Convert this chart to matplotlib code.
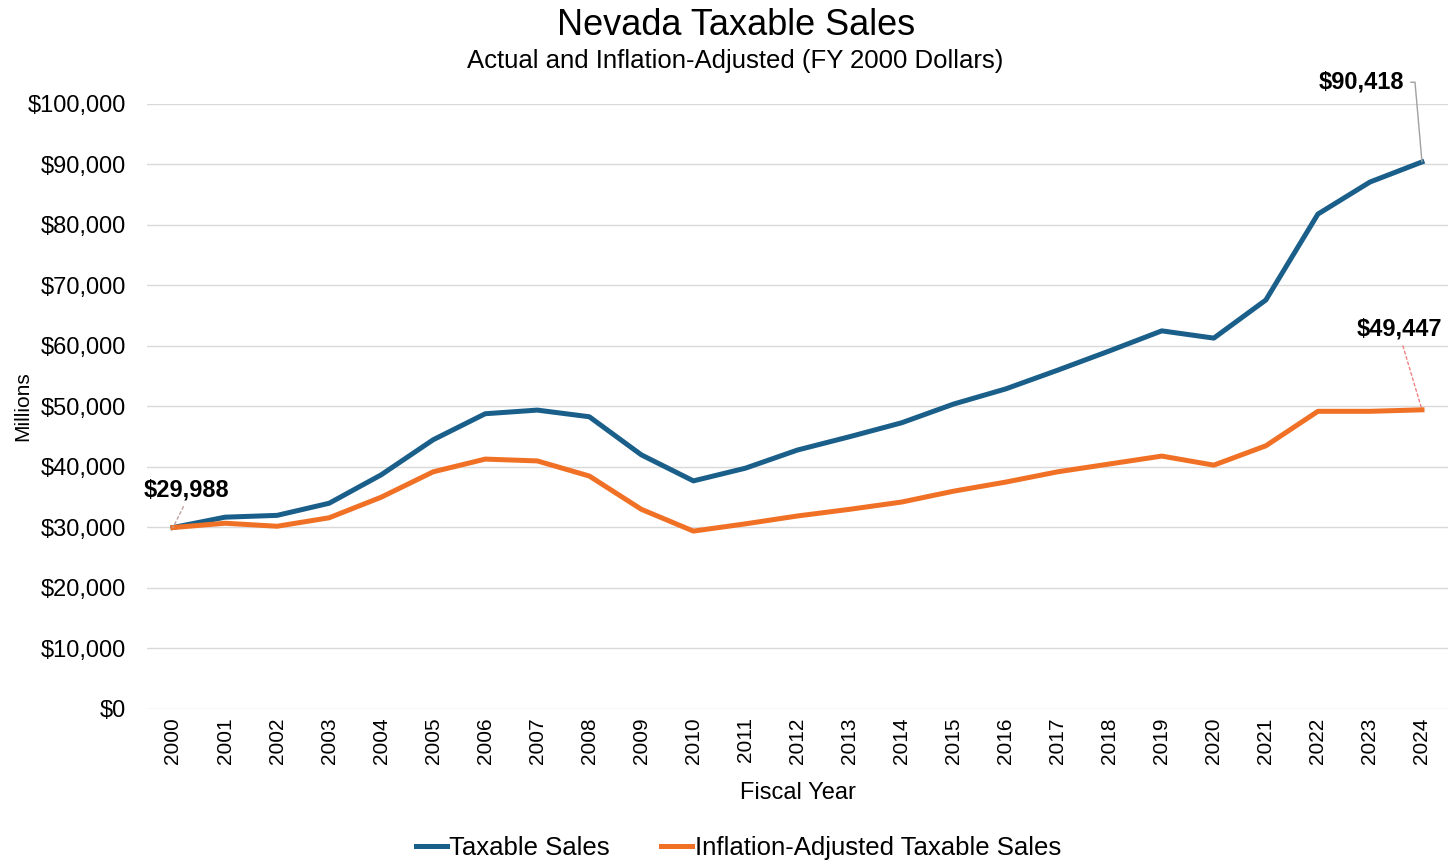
import matplotlib
matplotlib.use('Agg')
import matplotlib.pyplot as plt
from matplotlib.ticker import FuncFormatter

plt.rcParams['font.family'] = ['Liberation Sans', 'DejaVu Sans']

years = [str(y) for y in range(2000, 2025)]
taxable = [29988, 31700, 32000, 34000, 38700, 44500, 48800, 49400, 48300,
           42000, 37700, 39800, 42800, 45000, 47300, 50400, 52900, 56000,
           59200, 62500, 61300, 67600, 81800, 87100, 90418]
adjusted = [29988, 30700, 30200, 31600, 35000, 39200, 41300, 41000, 38500,
            33000, 29400, 30600, 31900, 33000, 34200, 36000, 37500, 39200,
            40500, 41800, 40300, 43500, 49200, 49200, 49447]

BLUE = '#1a5e8a'
ORANGE = '#f07125'

fig = plt.figure(figsize=(14.48, 8.63), dpi=100)
ax = fig.add_axes([0.1015, 0.1785, 0.8985, 0.701])

x = list(range(len(years)))
ax.plot(x, taxable, color=BLUE, lw=3.6, label='Taxable Sales',
        solid_joinstyle='round', zorder=3)
ax.plot(x, adjusted, color=ORANGE, lw=3.6,
        label='Inflation-Adjusted Taxable Sales',
        solid_joinstyle='round', zorder=3)

ax.set_xlim(-0.5, len(years) - 0.5)
ax.set_ylim(0, 100000)
ax.set_yticks(range(0, 100001, 10000))
ax.yaxis.set_major_formatter(FuncFormatter(lambda v, p: '${:,.0f}'.format(v)))
ax.set_xticks(x)
ax.set_xticklabels(years, rotation=90, fontsize=15)
ax.tick_params(axis='y', labelsize=17, length=0, pad=15)
ax.tick_params(axis='x', length=0, pad=6)
ax.grid(axis='y', color='#d9d9d9', lw=1)
ax.set_axisbelow(True)
for s in ax.spines.values():
    s.set_visible(False)

ax.set_xlabel('Fiscal Year', fontsize=17, labelpad=13)
ax.set_ylabel('Millions', fontsize=15, labelpad=-3)

# data labels with leader lines
ax.annotate('${:,}'.format(taxable[-1]), xy=(x[-1], taxable[-1]),
            xytext=(x[-1] - 0.35, 103600), ha='right', va='center',
            fontsize=17, fontweight='bold', annotation_clip=False,
            arrowprops=dict(arrowstyle='-', color='#a0a0a0', lw=1,
                            connectionstyle='angle,angleA=0,angleB=95,rad=0',
                            relpos=(1.0, 0.5), shrinkA=3, shrinkB=0))
ax.annotate('${:,}'.format(adjusted[-1]), xy=(x[-1], adjusted[-1]),
            xytext=(x[-1] - 0.43, 62800), ha='center', va='center',
            fontsize=17, fontweight='bold', annotation_clip=False,
            arrowprops=dict(arrowstyle='-', color='#f08080', lw=1,
                            linestyle=(0, (2, 2)), relpos=(0.52, 0.0),
                            shrinkA=2, shrinkB=0))
ax.annotate('${:,}'.format(taxable[0]), xy=(x[0], taxable[0]),
            xytext=(x[0] + 0.25, 36200), ha='center', va='center',
            fontsize=17, fontweight='bold', annotation_clip=False,
            arrowprops=dict(arrowstyle='-', color='#c0a0a0', lw=1,
                            linestyle=(0, (2, 2)), relpos=(0.5, 0.0),
                            shrinkA=2, shrinkB=0))

fig.text(0.508, 0.971, 'Nevada Taxable Sales', ha='center', va='center',
         fontsize=26)
fig.text(0.508, 0.929, 'Actual and Inflation-Adjusted (FY 2000 Dollars)',
         ha='center', va='center', fontsize=18.5)

fig.legend(loc='center', bbox_to_anchor=(0.51, 0.017), ncol=2,
           frameon=False, fontsize=18.5, handlelength=1.2, handletextpad=0.1,
           columnspacing=2.0)

fig.savefig('out.png', dpi=100)
